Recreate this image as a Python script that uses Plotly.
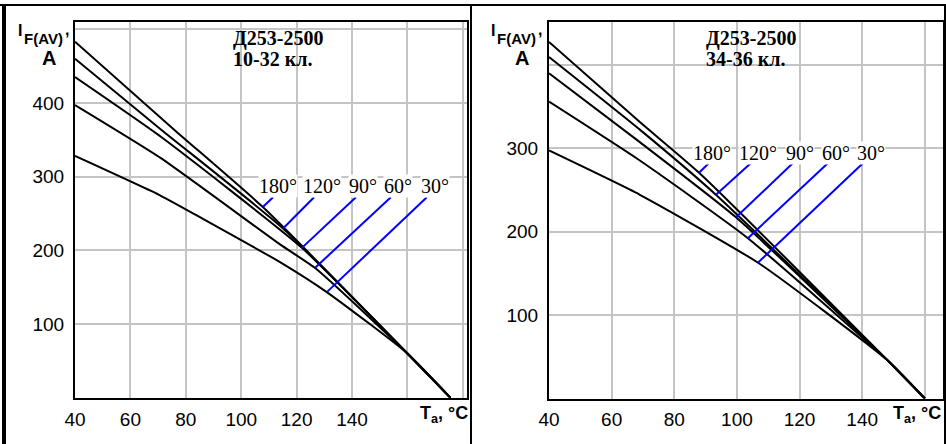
import numpy as np
import plotly.graph_objects as go

# ---------------- data: left panel (Д253-2500, 10-32 кл.) ----------------
angles = ["180°", "120°", "90°", "60°", "30°"]

T_L_180 = [40, 76, 108, 160, 175.5]
I_L_180 = [483, 363, 258, 60, 0]
T_L_120 = [40, 71, 115, 160, 175.5]
I_L_120 = [460, 364, 230, 60, 0]
T_L_90 = [40, 71, 122, 160, 175.5]
I_L_90 = [435, 354, 203, 60, 0]
T_L_60 = [40, 71, 114, 127, 160, 175.5]
I_L_60 = [397, 325, 208, 175, 60, 0]
T_L_30 = [40, 71, 87, 114, 131, 160, 175.5]
I_L_30 = [328, 274, 241, 184, 143, 60, 0]

# ---------------- data: right panel (Д253-2500, 34-36 кл.) ----------------
T_R_180 = [40, 69, 88, 148, 160]
I_R_180 = [427, 331, 270, 46, 0]
T_R_120 = [40, 69, 93.3, 148, 160]
I_R_120 = [409, 322, 244, 46, 0]
T_R_90 = [40, 69, 99.7, 148, 160]
I_R_90 = [389.5, 307, 217, 46, 0]
T_R_60 = [40, 69, 103.5, 148, 160]
I_R_60 = [355.5, 285, 192, 46, 0]
T_R_30 = [40, 69, 107, 148, 160]
I_R_30 = [297, 244, 162, 46, 0]

# tick labels (labelled ticks) and extra unlabelled grid lines
x_ticks_L = [40, 60, 80, 100, 120, 140]
x_text_L = ["40", "60", "80", "100", "120", "140"]
x_grid_L = [160, 180]
y_ticks_L = [100, 200, 300, 400]
y_text_L = ["100", "200", "300", "400"]
y_grid_L = [500]
x_ticks_R = [40, 60, 80, 100, 120, 140]
x_text_R = ["40", "60", "80", "100", "120", "140"]
x_grid_R = [160]
y_ticks_R = [100, 200, 300]
y_text_R = ["100", "200", "300"]
y_grid_R = [400]

# label pointer anchors (temperature on curve where pointer touches)
tip_T_L = [107.8, 115.1, 121.9, 126.6, 130.9]
tip_T_R = [87.9, 93.3, 99.7, 103.5, 106.7]
# pointer start / label anchors (data coords)
start_T_L = [111.5, 126.3, 141.4, 154.0, 167.0]
start_I_L = 272
label_T_L = [113.1, 129.0, 143.9, 156.6, 169.9]
label_I_L = 287
start_T_R = [91.1, 104.5, 117.9, 129.1, 140.3]
start_I_R = 282
label_T_R = [92.0, 106.7, 120.0, 131.5, 142.8]
label_I_R = 294

W, H = 946, 444
def px(x):
    return x / W
def py(y):
    return 1 - y / H

fig = go.Figure()

curves_L = [(T_L_180, I_L_180), (T_L_120, I_L_120), (T_L_90, I_L_90),
            (T_L_60, I_L_60), (T_L_30, I_L_30)]
curves_R = [(T_R_180, I_R_180), (T_R_120, I_R_120), (T_R_90, I_R_90),
            (T_R_60, I_R_60), (T_R_30, I_R_30)]

for (T, I), name in zip(curves_L, angles):
    fig.add_trace(go.Scatter(x=T, y=I, mode="lines", name=name,
                             line=dict(color="black", width=2, shape="spline", smoothing=0.5),
                             xaxis="x", yaxis="y", showlegend=False,
                             hoverinfo="skip"))
for (T, I), name in zip(curves_R, angles):
    fig.add_trace(go.Scatter(x=T, y=I, mode="lines", name=name,
                             line=dict(color="black", width=2, shape="spline", smoothing=0.5),
                             xaxis="x2", yaxis="y2", showlegend=False,
                             hoverinfo="skip"))

# blue pointer lines
for i, (T, I) in enumerate(curves_L):
    ti = float(np.interp(tip_T_L[i], T, I))
    fig.add_trace(go.Scatter(x=[start_T_L[i], tip_T_L[i]], y=[start_I_L, ti],
                             mode="lines", line=dict(color="#0000ff", width=2),
                             xaxis="x", yaxis="y", showlegend=False,
                             hoverinfo="skip"))
for i, (T, I) in enumerate(curves_R):
    ti = float(np.interp(tip_T_R[i], T, I))
    fig.add_trace(go.Scatter(x=[start_T_R[i], tip_T_R[i]], y=[start_I_R, ti],
                             mode="lines", line=dict(color="#0000ff", width=2),
                             xaxis="x2", yaxis="y2", showlegend=False,
                             hoverinfo="skip"))

tickfont = dict(family="Liberation Sans, Arial", size=19, color="black")
axis_common = dict(showgrid=True, gridcolor="#c4c4c4", gridwidth=2,
                   showline=True, linecolor="black", linewidth=2, mirror=True,
                   zeroline=False, ticks="outside", tickcolor="rgba(0,0,0,0)",
                   tickfont=tickfont, fixedrange=True, automargin=False)

def minor(vals):
    return dict(tickvals=vals, showgrid=True, gridcolor="#c4c4c4", gridwidth=2,
                ticks="")

fig.update_layout(
    width=W, height=H,
    margin=dict(l=0, r=0, t=0, b=0, autoexpand=False),
    paper_bgcolor="white", plot_bgcolor="white",
    xaxis=dict(domain=[px(75), px(467)], range=[40, 181.5],
               tickvals=x_ticks_L, ticktext=x_text_L, ticklen=3,
               minor=minor(x_grid_L), anchor="y", **axis_common),
    yaxis=dict(domain=[py(397.7), py(22)], range=[0, 509.8],
               tickvals=y_ticks_L, ticktext=y_text_L, ticklen=5,
               minor=minor(y_grid_L), anchor="x", **axis_common),
    xaxis2=dict(domain=[px(549), px(943)], range=[40, 165.8],
                tickvals=x_ticks_R, ticktext=x_text_R, ticklen=3,
                minor=minor(x_grid_R), anchor="y2", **axis_common),
    yaxis2=dict(domain=[py(398.5), py(22)], range=[0, 450.9],
                tickvals=y_ticks_R, ticktext=y_text_R, ticklen=5,
                minor=minor(y_grid_R), anchor="x2", **axis_common),
)

shapes = []
# white boxes behind titles (between grid and traces)
for x0, x1 in [(230, 333), (705, 807)]:
    shapes.append(dict(type="rect", xref="paper", yref="paper",
                       x0=px(x0), x1=px(x1), y0=py(73), y1=py(30),
                       fillcolor="white", line=dict(width=0), layer="between"))
# outer frame lines
shapes.append(dict(type="line", xref="paper", yref="paper", x0=px(4), x1=px(4),
                   y0=0, y1=py(4), line=dict(color="black", width=4)))
shapes.append(dict(type="line", xref="paper", yref="paper", x0=0, x1=1,
                   y0=py(5), y1=py(5), line=dict(color="black", width=2)))
shapes.append(dict(type="line", xref="paper", yref="paper", x0=px(471), x1=px(471),
                   y0=0, y1=py(5), line=dict(color="black", width=2)))
shapes.append(dict(type="line", xref="paper", yref="paper", x0=px(945), x1=px(945),
                   y0=0, y1=py(5), line=dict(color="black", width=2)))
fig.update_layout(shapes=shapes)

ann = []
serif = "Liberation Serif, Times New Roman"
sans = "Liberation Sans, Arial"
# panel titles
for x0, l1, l2 in [(231, "Д253-2500", "10-32 кл."), (704, "Д253-2500", "34-36 кл.")]:
    ann.append(dict(xref="paper", yref="paper", x=px(x0), y=py(38), xanchor="left",
                    yanchor="middle", showarrow=False, text="<b>%s</b>" % l1,
                    font=dict(family=serif, size=20, color="black")))
    ann.append(dict(xref="paper", yref="paper", x=px(x0), y=py(59), xanchor="left",
                    yanchor="middle", showarrow=False, text="<b>%s</b>" % l2,
                    font=dict(family=serif, size=20, color="black")))
# angle labels
for i, a in enumerate(angles):
    ann.append(dict(xref="x", yref="y", x=label_T_L[i], y=label_I_L, text=a,
                    showarrow=False, bgcolor="white", borderpad=0,
                    font=dict(family=serif, size=20, color="black")))
    ann.append(dict(xref="x2", yref="y2", x=label_T_R[i], y=label_I_R, text=a,
                    showarrow=False, bgcolor="white", borderpad=0,
                    font=dict(family=serif, size=20, color="black")))
# axis titles
for xI, xS, xC, xA, xT in [(16, 22, 63, 49, 444), (489, 495, 536, 522, 917)]:
    ann.append(dict(xref="paper", yref="paper", x=px(xI), y=py(31), xanchor="left",
                    yanchor="middle", showarrow=False, text="<b>I</b>",
                    font=dict(family=sans, size=16, color="black")))
    ann.append(dict(xref="paper", yref="paper", x=px(xS), y=py(38), xanchor="left",
                    yanchor="middle", showarrow=False, text="<b>F(AV)</b>",
                    font=dict(family=sans, size=15, color="black")))
    ann.append(dict(xref="paper", yref="paper", x=px(xC), y=py(30), xanchor="left",
                    yanchor="middle", showarrow=False, text="<b>,</b>",
                    font=dict(family=sans, size=16, color="black")))
    ann.append(dict(xref="paper", yref="paper", x=px(xA), y=py(58), xanchor="center",
                    yanchor="middle", showarrow=False, text="<b>A</b>",
                    font=dict(family=sans, size=20, color="black")))
    ann.append(dict(xref="paper", yref="paper", x=px(xT), y=py(414), xanchor="center",
                    yanchor="middle", showarrow=False,
                    text="<b>T<sub>a</sub>, °C</b>",
                    font=dict(family=sans, size=18, color="black")))
fig.update_layout(annotations=ann)

fig.write_html("out.html", config={"displayModeBar": False},
               post_script="document.body.style.margin='0';document.body.style.overflow='hidden';")
